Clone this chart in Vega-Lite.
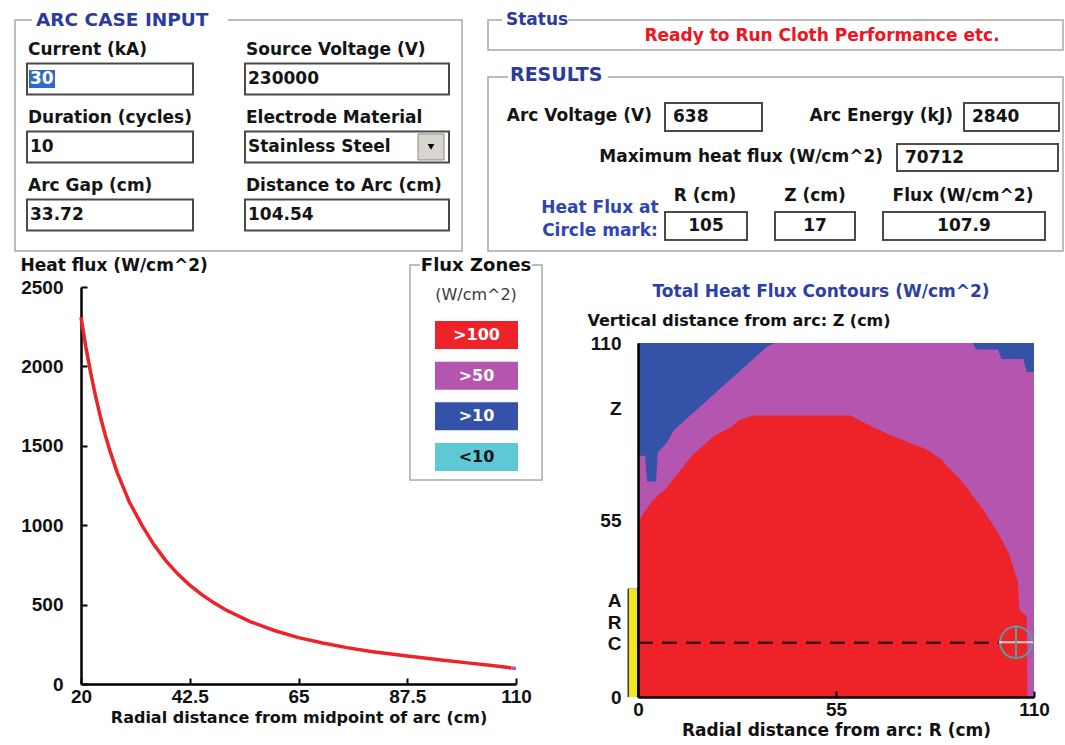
{
  "$schema": "https://vega.github.io/schema/vega-lite/v6.json",
  "width": 1065,
  "height": 745,
  "autosize": {"type": "none"},
  "padding": 0,
  "background": "white",
  "config": {
    "view": {"stroke": null},
    "font": "DejaVu Sans",
    "axis": {"grid": false, "domainColor": "#000000", "domainWidth": 2.5, "tickColor": "#000000", "tickWidth": 2, "tickSize": -6, "labelFont": "Liberation Sans", "labelFontWeight": "bold", "labelFontSize": 19, "labelColor": "#111111", "titleFont": "DejaVu Sans", "titleFontWeight": "bold", "titleFontSize": 16, "titleColor": "#111111", "labelFlush": false, "labelOverlap": false}
  },
  "datasets": {
    "groups": [
      {"group": "ARC CASE INPUT"},
      {"group": "Status", "message": "Ready to Run Cloth Performance etc."},
      {"group": "RESULTS"},
      {"group": "Flux Zones", "unit": "(W/cm^2)"}
    ],
    "titles": [{"chart": "Total Heat Flux Contours (W/cm^2)"}],
    "inputs": [
      {"row": 1, "col": "L", "label": "Current (kA)", "value": "30"},
      {"row": 1, "col": "R", "label": "Source Voltage (V)", "value": "230000"},
      {"row": 2, "col": "L", "label": "Duration (cycles)", "value": "10"},
      {"row": 2, "col": "R", "label": "Electrode Material", "value": "Stainless Steel"},
      {"row": 3, "col": "L", "label": "Arc Gap (cm)", "value": "33.72"},
      {"row": 3, "col": "R", "label": "Distance to Arc (cm)", "value": "104.54"}
    ],
    "results": [
      {"row": "r1", "item": "Arc Voltage (V)", "value": "638"},
      {"row": "r1", "item": "Arc Energy (kJ)", "value": "2840"},
      {"row": "r2", "item": "Maximum heat flux (W/cm^2)", "value": "70712"},
      {"row": "r4", "item": "R (cm)", "value": "105"},
      {"row": "r4", "item": "Z (cm)", "value": "17"},
      {"row": "r4", "item": "Flux (W/cm^2)", "value": "107.9"},
      {"row": "r4", "item": "Heat Flux at\nCircle mark:", "value": ""}
    ],
    "zones": [{"zone": ">100"}, {"zone": ">50"}, {"zone": ">10"}, {"zone": "<10"}],
    "curve": [
      {"R": 20, "flux": 2310, "zone": ">100"},
      {"R": 21, "flux": 2123, "zone": ">100"},
      {"R": 22, "flux": 1960, "zone": ">100"},
      {"R": 23, "flux": 1814, "zone": ">100"},
      {"R": 24, "flux": 1685, "zone": ">100"},
      {"R": 25, "flux": 1570, "zone": ">100"},
      {"R": 26, "flux": 1467, "zone": ">100"},
      {"R": 27.5, "flux": 1331, "zone": ">100"},
      {"R": 30, "flux": 1146, "zone": ">100"},
      {"R": 32.6, "flux": 1000, "zone": ">100"},
      {"R": 35, "flux": 881, "zone": ">100"},
      {"R": 37.5, "flux": 779, "zone": ">100"},
      {"R": 40, "flux": 694, "zone": ">100"},
      {"R": 42.5, "flux": 623, "zone": ">100"},
      {"R": 45, "flux": 563, "zone": ">100"},
      {"R": 47.5, "flux": 511, "zone": ">100"},
      {"R": 50, "flux": 466, "zone": ">100"},
      {"R": 55, "flux": 393, "zone": ">100"},
      {"R": 60, "flux": 337, "zone": ">100"},
      {"R": 65, "flux": 292, "zone": ">100"},
      {"R": 70, "flux": 258, "zone": ">100"},
      {"R": 75, "flux": 229, "zone": ">100"},
      {"R": 80, "flux": 205, "zone": ">100"},
      {"R": 87.5, "flux": 176, "zone": ">100"},
      {"R": 95, "flux": 150, "zone": ">100"},
      {"R": 100, "flux": 133, "zone": ">100"},
      {"R": 105, "flux": 116, "zone": ">100"},
      {"R": 108, "flux": 106, "zone": ">100"},
      {"R": 109, "flux": 101, "zone": ">100"},
      {"R": 109, "flux": 101, "zone": ">50"},
      {"R": 110, "flux": 98, "zone": ">50"}
    ],
    "contour": [
      {"zone": ">10", "R": 0, "top": 110},
      {"zone": ">10", "R": 110, "top": 110},
      {"zone": ">50", "R": 0, "top": 75},
      {"zone": ">50", "R": 2, "top": 75},
      {"zone": ">50", "R": 2.5, "top": 67},
      {"zone": ">50", "R": 5, "top": 67},
      {"zone": ">50", "R": 5.5, "top": 76},
      {"zone": ">50", "R": 8, "top": 79},
      {"zone": ">50", "R": 10, "top": 83},
      {"zone": ">50", "R": 12, "top": 85},
      {"zone": ">50", "R": 15, "top": 88},
      {"zone": ">50", "R": 18, "top": 91},
      {"zone": ">50", "R": 21, "top": 94},
      {"zone": ">50", "R": 24, "top": 97},
      {"zone": ">50", "R": 27, "top": 100},
      {"zone": ">50", "R": 30, "top": 103},
      {"zone": ">50", "R": 33, "top": 106},
      {"zone": ">50", "R": 36, "top": 109},
      {"zone": ">50", "R": 38, "top": 110},
      {"zone": ">50", "R": 93, "top": 110},
      {"zone": ">50", "R": 94, "top": 108},
      {"zone": ">50", "R": 100, "top": 108},
      {"zone": ">50", "R": 101, "top": 105},
      {"zone": ">50", "R": 107, "top": 105},
      {"zone": ">50", "R": 108, "top": 101},
      {"zone": ">50", "R": 110, "top": 101},
      {"zone": ">100", "R": 0, "top": 54},
      {"zone": ">100", "R": 1.5, "top": 57},
      {"zone": ">100", "R": 4, "top": 61},
      {"zone": ">100", "R": 8, "top": 65},
      {"zone": ">100", "R": 10, "top": 68},
      {"zone": ">100", "R": 15, "top": 75},
      {"zone": ">100", "R": 21, "top": 81},
      {"zone": ">100", "R": 26, "top": 84},
      {"zone": ">100", "R": 28, "top": 86},
      {"zone": ">100", "R": 32, "top": 87.5},
      {"zone": ">100", "R": 59, "top": 87.5},
      {"zone": ">100", "R": 65, "top": 84},
      {"zone": ">100", "R": 72, "top": 80.5},
      {"zone": ">100", "R": 80, "top": 77},
      {"zone": ">100", "R": 84, "top": 74},
      {"zone": ">100", "R": 90, "top": 67},
      {"zone": ">100", "R": 96, "top": 58},
      {"zone": ">100", "R": 100, "top": 51},
      {"zone": ">100", "R": 103, "top": 44.6},
      {"zone": ">100", "R": 105.5, "top": 36},
      {"zone": ">100", "R": 106, "top": 27},
      {"zone": ">100", "R": 108, "top": 25},
      {"zone": ">100", "R": 108.2, "top": 0}
    ],
    "arc": [{"arc_gap": 33.72, "arc_mid": 16.86, "arc_R": 0, "mark_R": 105, "mark_Z": 17}]
  },
  "layer": [
    {
      "data": {"name": "groups"},
      "transform": [{"filter": "datum.group === 'ARC CASE INPUT'"}],
      "encoding": {
        "x": {"field": "group", "type": "nominal", "scale": {"type": "band", "range": [15, 462], "paddingInner": 0, "paddingOuter": 0}, "axis": null},
        "y": {"field": "group", "type": "nominal", "scale": {"type": "band", "range": [20, 251], "paddingInner": 0, "paddingOuter": 0}, "axis": null}
      },
      "layer": [
        {"mark": {"type": "rect", "fill": "transparent", "stroke": "#a8a8a8", "strokeWidth": 1.5}},
        {"mark": {"type": "point", "shape": "M-1,-0.0357H1V0.0357H-1Z", "size": 38416, "filled": true, "color": "#ffffff", "opacity": 1, "strokeWidth": 0, "xOffset": 115},
         "encoding": {"x": {"field": "group", "type": "nominal", "bandPosition": 0}, "y": {"field": "group", "type": "nominal", "bandPosition": 0}}},
        {"mark": {"type": "text", "align": "left", "baseline": "middle", "dx": 21, "fontSize": 18.5, "fontWeight": "bold", "color": "#2b3b9d"},
         "encoding": {"x": {"field": "group", "type": "nominal", "bandPosition": 0}, "y": {"field": "group", "type": "nominal", "bandPosition": 0}, "text": {"field": "group"}}}
      ]
    },
    {
      "data": {"name": "inputs"},
      "encoding": {
        "x": {"field": "col", "type": "nominal", "bandPosition": 0, "scale": {"type": "band", "domain": ["L", "R"], "range": [15, 451], "paddingInner": 0, "paddingOuter": 0}, "axis": null},
        "y": {"field": "row", "type": "ordinal", "scale": {"type": "band", "domain": [1, 2, 3], "range": [30.5, 234.4], "paddingInner": 0, "paddingOuter": 0}, "axis": null}
      },
      "layer": [
        {"mark": {"type": "text", "align": "left", "baseline": "middle", "dx": 13, "dy": -14.5, "fontSize": 17, "fontWeight": "bold", "color": "#141414"},
         "encoding": {"text": {"field": "label"}}},
        {"transform": [{"filter": "datum.col === 'L'"}],
         "mark": {"type": "point", "shape": "M-1,-0.1867H1V0.1867H-1Z", "size": 27556, "filled": false, "stroke": "#4a4a4a", "strokeWidth": 2, "opacity": 1, "xOffset": 95, "yOffset": 14.5}},
        {"transform": [{"filter": "datum.col === 'R'"}],
         "mark": {"type": "point", "shape": "M-1,-0.152H1V0.152H-1Z", "size": 41616, "filled": false, "stroke": "#4a4a4a", "strokeWidth": 2, "opacity": 1, "xOffset": 114, "yOffset": 14.5}},
        {"transform": [{"filter": "datum.label === 'Current (kA)'"}],
         "mark": {"type": "point", "shape": "M-1,-0.6923H1V0.6923H-1Z", "size": 676, "filled": true, "color": "#3169c6", "opacity": 1, "strokeWidth": 0, "xOffset": 27, "yOffset": 14.5}},
        {"transform": [{"filter": "datum.label === 'Electrode Material'"}],
         "mark": {"type": "point", "shape": "M-1,-1H1V1H-1Z", "size": 676, "filled": true, "color": "#d9d6d0", "stroke": "#8a8a8a", "strokeWidth": 1, "opacity": 1, "xOffset": 198, "yOffset": 14.5}},
        {"transform": [{"filter": "datum.label === 'Electrode Material'"}],
         "mark": {"type": "point", "shape": "triangle-down", "size": 45, "filled": true, "color": "#000000", "opacity": 1, "xOffset": 198, "yOffset": 14.5}},
        {"transform": [{"filter": "datum.label !== 'Current (kA)'"}],
         "mark": {"type": "text", "align": "left", "baseline": "middle", "dx": 15, "dy": 14.5, "fontSize": 17, "fontWeight": "bold", "color": "#141414"},
         "encoding": {"text": {"field": "value"}}},
        {"transform": [{"filter": "datum.label === 'Current (kA)'"}],
         "mark": {"type": "text", "align": "left", "baseline": "middle", "dx": 15, "dy": 14.5, "fontSize": 17, "fontWeight": "bold", "color": "#ffffff"},
         "encoding": {"text": {"field": "value"}}}
      ]
    },
    {
      "data": {"name": "groups"},
      "transform": [{"filter": "datum.group === 'Status'"}],
      "encoding": {
        "x": {"field": "group", "type": "nominal", "scale": {"type": "band", "range": [488, 1063], "paddingInner": 0, "paddingOuter": 0}, "axis": null},
        "y": {"field": "group", "type": "nominal", "scale": {"type": "band", "range": [20, 50], "paddingInner": 0, "paddingOuter": 0}, "axis": null}
      },
      "layer": [
        {"mark": {"type": "rect", "fill": "transparent", "stroke": "#a8a8a8", "strokeWidth": 1.5}},
        {"mark": {"type": "point", "shape": "M-1,-0.106H1V0.106H-1Z", "size": 4356, "filled": true, "color": "#ffffff", "opacity": 1, "strokeWidth": 0, "xOffset": 47},
         "encoding": {"x": {"field": "group", "type": "nominal", "bandPosition": 0}, "y": {"field": "group", "type": "nominal", "bandPosition": 0}}},
        {"mark": {"type": "text", "align": "left", "baseline": "middle", "dx": 18, "fontSize": 17, "fontWeight": "bold", "color": "#2b3b9d"},
         "encoding": {"x": {"field": "group", "type": "nominal", "bandPosition": 0}, "y": {"field": "group", "type": "nominal", "bandPosition": 0}, "text": {"field": "group"}}},
        {"mark": {"type": "text", "align": "center", "baseline": "middle", "dx": 46.5, "dy": 1, "fontSize": 17, "fontWeight": "bold", "color": "#f0141e"},
         "encoding": {"text": {"field": "message"}}}
      ]
    },
    {
      "data": {"name": "groups"},
      "transform": [{"filter": "datum.group === 'RESULTS'"}],
      "encoding": {
        "x": {"field": "group", "type": "nominal", "scale": {"type": "band", "range": [488, 1063], "paddingInner": 0, "paddingOuter": 0}, "axis": null},
        "y": {"field": "group", "type": "nominal", "scale": {"type": "band", "range": [77, 251], "paddingInner": 0, "paddingOuter": 0}, "axis": null}
      },
      "layer": [
        {"mark": {"type": "rect", "fill": "transparent", "stroke": "#a8a8a8", "strokeWidth": 1.5}},
        {"mark": {"type": "point", "shape": "M-1,-0.07H1V0.07H-1Z", "size": 10000, "filled": true, "color": "#ffffff", "opacity": 1, "strokeWidth": 0, "xOffset": 70},
         "encoding": {"x": {"field": "group", "type": "nominal", "bandPosition": 0}, "y": {"field": "group", "type": "nominal", "bandPosition": 0}}},
        {"mark": {"type": "text", "align": "left", "baseline": "middle", "dx": 22, "dy": -2, "fontSize": 19, "fontWeight": "bold", "color": "#2b3b9d"},
         "encoding": {"x": {"field": "group", "type": "nominal", "bandPosition": 0}, "y": {"field": "group", "type": "nominal", "bandPosition": 0}, "text": {"field": "group"}}}
      ]
    },
    {
      "data": {"name": "results"},
      "encoding": {
        "y": {"field": "row", "type": "nominal", "scale": {"type": "band", "domain": ["r1", "r2", "r3", "r4"], "range": [98.25, 244.25], "paddingInner": 0, "paddingOuter": 0}, "axis": null}
      },
      "layer": [
        {"transform": [{"filter": "datum.item === 'Arc Voltage (V)'"}],
         "layer": [
           {"mark": {"type": "point", "shape": "M-1,-0.2887H1V0.2887H-1Z", "size": 9409, "filled": false, "stroke": "#4a4a4a", "strokeWidth": 2, "opacity": 1, "xOffset": 181, "yOffset": 0.5}},
           {"mark": {"type": "text", "align": "right", "baseline": "middle", "dx": 119.5, "dy": -0.5, "fontSize": 17, "fontWeight": "bold", "color": "#141414"}, "encoding": {"text": {"field": "item"}}},
           {"mark": {"type": "text", "align": "left", "baseline": "middle", "dx": 140.5, "dy": 0.5, "fontSize": 17, "fontWeight": "bold", "color": "#141414"}, "encoding": {"text": {"field": "value"}}}
         ]},
        {"transform": [{"filter": "datum.item === 'Arc Energy (kJ)'"}],
         "layer": [
           {"mark": {"type": "point", "shape": "M-1,-0.2947H1V0.2947H-1Z", "size": 9025, "filled": false, "stroke": "#4a4a4a", "strokeWidth": 2, "opacity": 1, "xOffset": 479, "yOffset": 0.5}},
           {"mark": {"type": "text", "align": "right", "baseline": "middle", "dx": 420.5, "dy": -0.5, "fontSize": 17, "fontWeight": "bold", "color": "#141414"}, "encoding": {"text": {"field": "item"}}},
           {"mark": {"type": "text", "align": "left", "baseline": "middle", "dx": 439.5, "dy": 0.5, "fontSize": 17, "fontWeight": "bold", "color": "#141414"}, "encoding": {"text": {"field": "value"}}}
         ]},
        {"transform": [{"filter": "datum.item === 'Maximum heat flux (W/cm^2)'"}],
         "layer": [
           {"mark": {"type": "point", "shape": "M-1,-0.1677H1V0.1677H-1Z", "size": 25921, "filled": false, "stroke": "#4a4a4a", "strokeWidth": 2, "opacity": 1, "xOffset": 445, "yOffset": 4.5}},
           {"mark": {"type": "text", "align": "right", "baseline": "middle", "dx": 350.5, "dy": 4, "fontSize": 17, "fontWeight": "bold", "color": "#141414"}, "encoding": {"text": {"field": "item"}}},
           {"mark": {"type": "text", "align": "left", "baseline": "middle", "dx": 372.5, "dy": 4.5, "fontSize": 17, "fontWeight": "bold", "color": "#141414"}, "encoding": {"text": {"field": "value"}}}
         ]},
        {"transform": [{"filter": "datum.item === 'R (cm)'"}],
         "layer": [
           {"mark": {"type": "point", "shape": "M-1,-0.3415H1V0.3415H-1Z", "size": 6724, "filled": false, "stroke": "#4a4a4a", "strokeWidth": 2, "opacity": 1, "xOffset": 173.5}},
           {"mark": {"type": "text", "align": "center", "baseline": "middle", "dx": 172.5, "dy": -30, "fontSize": 17, "fontWeight": "bold", "color": "#141414"}, "encoding": {"text": {"field": "item"}}},
           {"mark": {"type": "text", "align": "center", "baseline": "middle", "dx": 173.5, "fontSize": 17, "fontWeight": "bold", "color": "#141414"}, "encoding": {"text": {"field": "value"}}}
         ]},
        {"transform": [{"filter": "datum.item === 'Z (cm)'"}],
         "layer": [
           {"mark": {"type": "point", "shape": "M-1,-0.35H1V0.35H-1Z", "size": 6400, "filled": false, "stroke": "#4a4a4a", "strokeWidth": 2, "opacity": 1, "xOffset": 282.5}},
           {"mark": {"type": "text", "align": "center", "baseline": "middle", "dx": 282.5, "dy": -30, "fontSize": 17, "fontWeight": "bold", "color": "#141414"}, "encoding": {"text": {"field": "item"}}},
           {"mark": {"type": "text", "align": "center", "baseline": "middle", "dx": 282.5, "fontSize": 17, "fontWeight": "bold", "color": "#141414"}, "encoding": {"text": {"field": "value"}}}
         ]},
        {"transform": [{"filter": "datum.item === 'Flux (W/cm^2)'"}],
         "layer": [
           {"mark": {"type": "point", "shape": "M-1,-0.1728H1V0.1728H-1Z", "size": 26244, "filled": false, "stroke": "#4a4a4a", "strokeWidth": 2, "opacity": 1, "xOffset": 431.5}},
           {"mark": {"type": "text", "align": "center", "baseline": "middle", "dx": 430.5, "dy": -30, "fontSize": 17, "fontWeight": "bold", "color": "#141414"}, "encoding": {"text": {"field": "item"}}},
           {"mark": {"type": "text", "align": "center", "baseline": "middle", "dx": 431.5, "fontSize": 17, "fontWeight": "bold", "color": "#141414"}, "encoding": {"text": {"field": "value"}}}
         ]},
        {"transform": [{"filter": "datum.value === ''"}],
         "mark": {"type": "text", "align": "center", "baseline": "middle", "dx": 67.5, "dy": -18.5, "lineBreak": "\n", "lineHeight": 23, "fontSize": 17, "fontWeight": "bold", "color": "#2f45b0"},
         "encoding": {"text": {"field": "item"}}}
      ]
    },
    {
      "data": {"name": "groups"},
      "transform": [{"filter": "datum.group === 'Flux Zones'"}],
      "encoding": {
        "x": {"field": "group", "type": "nominal", "scale": {"type": "band", "range": [410, 542], "paddingInner": 0, "paddingOuter": 0}, "axis": null},
        "y": {"field": "group", "type": "nominal", "scale": {"type": "band", "range": [265, 480], "paddingInner": 0, "paddingOuter": 0}, "axis": null}
      },
      "layer": [
        {"mark": {"type": "rect", "fill": "transparent", "stroke": "#a8a8a8", "strokeWidth": 1.5}},
        {"mark": {"type": "point", "shape": "M-1,-0.0625H1V0.0625H-1Z", "size": 12544, "filled": true, "color": "#ffffff", "opacity": 1, "strokeWidth": 0},
         "encoding": {"y": {"field": "group", "type": "nominal", "bandPosition": 0}}},
        {"mark": {"type": "text", "align": "center", "baseline": "middle", "dy": 1, "fontSize": 18, "fontWeight": "bold", "color": "#111111"},
         "encoding": {"y": {"field": "group", "type": "nominal", "bandPosition": 0}, "text": {"field": "group"}}},
        {"mark": {"type": "text", "align": "center", "baseline": "middle", "dy": 29.5, "fontSize": 16, "fontWeight": "normal", "color": "#3a3a3a"},
         "encoding": {"y": {"field": "group", "type": "nominal", "bandPosition": 0}, "text": {"field": "unit"}}}
      ]
    },
    {
      "data": {"name": "zones"},
      "encoding": {
        "y": {"field": "zone", "type": "nominal", "scale": {"type": "band", "domain": [">100", ">50", ">10", "<10"], "range": [314.67, 477.33], "paddingInner": 0, "paddingOuter": 0}, "axis": null}
      },
      "layer": [
        {"mark": {"type": "point", "shape": "M-1,-0.3373H1V0.3373H-1Z", "size": 6889, "filled": true, "opacity": 1, "strokeWidth": 0, "xOffset": -56},
         "encoding": {"color": {"field": "zone", "type": "nominal", "scale": {"domain": [">100", ">50", ">10", "<10"], "range": ["#ee2229", "#b455b0", "#3352a8", "#5ec8d5"]}, "legend": null}}},
        {"transform": [{"filter": "datum.zone !== '<10'"}],
         "mark": {"type": "text", "align": "center", "baseline": "middle", "dx": -56, "fontSize": 16, "fontWeight": "bold", "color": "#ffffff"},
         "encoding": {"text": {"field": "zone"}}},
        {"transform": [{"filter": "datum.zone === '<10'"}],
         "mark": {"type": "text", "align": "center", "baseline": "middle", "dx": -56, "fontSize": 16, "fontWeight": "bold", "color": "#151515"},
         "encoding": {"text": {"field": "zone"}}}
      ]
    },
    {
      "data": {"name": "curve"},
      "mark": {"type": "line", "strokeWidth": 3.5},
      "encoding": {
        "x": {"field": "R", "type": "quantitative", "scale": {"domain": [20, 110], "range": [81, 516], "nice": false, "zero": false},
              "axis": {"orient": "bottom", "offset": -61, "values": [20, 42.5, 65, 87.5, 110], "format": ".1~f", "title": "Radial distance from midpoint of arc (cm)", "labelPadding": 9.5, "titlePadding": 3, "titleFontSize": 16}},
        "y": {"field": "flux", "type": "quantitative", "scale": {"domain": [0, 2500], "range": [684, 287], "nice": false, "zero": false},
              "axis": {"orient": "left", "offset": -81, "values": [0, 500, 1000, 1500, 2000, 2500], "format": "d", "title": "Heat flux (W/cm^2)", "titleAngle": 0, "titleAlign": "left", "titleBaseline": "middle", "titleX": -61, "titleY": 265, "titleFontSize": 17, "labelPadding": 24}},
        "color": {"field": "zone", "type": "nominal", "scale": {"domain": [">100", ">50", ">10", "<10"], "range": ["#ee2229", "#b455b0", "#3352a8", "#5ec8d5"]}, "legend": null}
      }
    },
    {
      "layer": [
        {"data": {"name": "contour"}, "transform": [{"filter": "datum.zone === '>10'"}],
         "mark": {"type": "area", "interpolate": "linear", "opacity": 1},
         "encoding": {
           "x": {"field": "R", "type": "quantitative", "scale": {"domain": [0, 110], "range": [638, 1034], "nice": false, "zero": false},
                 "axis": {"orient": "bottom", "offset": -48, "values": [0, 55, 110], "format": "d", "title": "Radial distance from arc: R (cm)", "labelPadding": 9.5, "titlePadding": 3, "titleFontSize": 17, "zindex": 1}},
           "y": {"field": "top", "type": "quantitative", "stack": null, "scale": {"domain": [0, 110], "range": [697, 343], "nice": false, "zero": false},
                 "axis": {"orient": "left", "offset": -638, "values": [0, 16.7, 23.3, 30, 55, 89.5, 110], "format": "d", "labelExpr": "datum.value == 89.5 ? 'Z' : datum.value == 30 ? 'A' : datum.value == 23.3 ? 'R' : datum.value == 16.7 ? 'C' : datum.label", "ticks": false, "labelPadding": 17, "title": "Vertical distance from arc: Z (cm)", "titleAngle": 0, "titleAlign": "left", "titleBaseline": "middle", "titleX": -51, "titleY": 320, "titleFontSize": 16, "zindex": 1}},
           "y2": {"datum": 0},
           "color": {"field": "zone", "type": "nominal", "scale": {"domain": [">100", ">50", ">10", "<10"], "range": ["#ee2229", "#b455b0", "#3352a8", "#5ec8d5"]}, "legend": null}}},
        {"data": {"name": "contour"}, "transform": [{"filter": "datum.zone === '>50'"}],
         "mark": {"type": "area", "interpolate": "linear", "opacity": 1},
         "encoding": {
           "x": {"field": "R", "type": "quantitative"},
           "y": {"field": "top", "type": "quantitative", "stack": null},
           "y2": {"datum": 0},
           "color": {"field": "zone", "type": "nominal", "legend": null}}},
        {"data": {"name": "contour"}, "transform": [{"filter": "datum.zone === '>100'"}],
         "mark": {"type": "area", "interpolate": "linear", "opacity": 1},
         "encoding": {
           "x": {"field": "R", "type": "quantitative"},
           "y": {"field": "top", "type": "quantitative", "stack": null},
           "y2": {"datum": 0},
           "color": {"field": "zone", "type": "nominal", "legend": null}}},
        {"data": {"name": "arc"},
         "mark": {"type": "rule", "color": "#3a3a3a", "strokeWidth": 11, "xOffset": 100.5},
         "encoding": {"y": {"field": "arc_gap", "type": "quantitative"}, "y2": {"datum": 0}}},
        {"data": {"name": "arc"},
         "mark": {"type": "rule", "color": "#f2e51d", "strokeWidth": 8, "xOffset": 100.5},
         "encoding": {"y": {"field": "arc_gap", "type": "quantitative"}, "y2": {"datum": 0}}},
        {"data": {"name": "arc"},
         "mark": {"type": "rule", "color": "#301515", "strokeWidth": 2.5, "strokeDash": [15, 9], "x2Offset": -17},
         "encoding": {
           "x": {"field": "arc_R", "type": "quantitative"},
           "x2": {"field": "mark_R"},
           "y": {"field": "arc_mid", "type": "quantitative"}}},
        {"data": {"name": "arc"},
         "mark": {"type": "point", "shape": "circle", "size": 1000, "filled": false, "stroke": "#5b9c9a", "strokeWidth": 2, "opacity": 1},
         "encoding": {
           "x": {"field": "mark_R", "type": "quantitative"},
           "y": {"field": "mark_Z", "type": "quantitative"}}},
        {"data": {"name": "arc"},
         "mark": {"type": "point", "shape": "M-1,0H1", "size": 1156, "filled": false, "stroke": "#f2cfcf", "strokeWidth": 2, "opacity": 1},
         "encoding": {
           "x": {"field": "mark_R", "type": "quantitative"},
           "y": {"field": "mark_Z", "type": "quantitative"}}},
        {"data": {"name": "arc"},
         "mark": {"type": "point", "shape": "M0,-1V1", "size": 1156, "filled": false, "stroke": "#5b9c9a", "strokeWidth": 2, "opacity": 1},
         "encoding": {
           "x": {"field": "mark_R", "type": "quantitative"},
           "y": {"field": "mark_Z", "type": "quantitative"}}}
      ]
    },
    {
      "data": {"name": "titles"},
      "mark": {"type": "text", "align": "center", "baseline": "middle", "dx": 288.5, "dy": -80.5, "fontSize": 17, "fontWeight": "bold", "color": "#2c3fa6"},
      "encoding": {"text": {"field": "chart"}}
    }
  ],
  "resolve": {"scale": {"x": "independent", "y": "independent"}, "axis": {"x": "independent", "y": "independent"}}
}
